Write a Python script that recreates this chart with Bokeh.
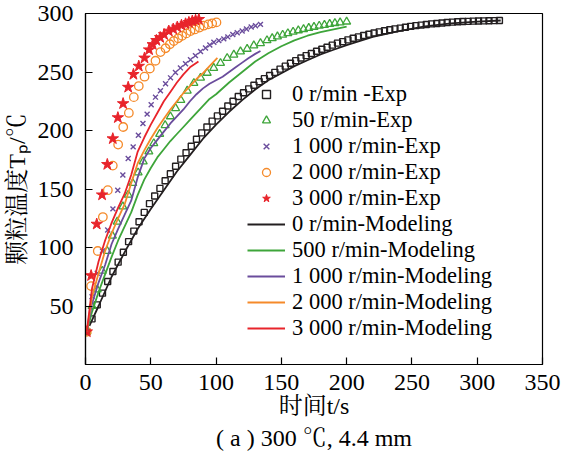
from bokeh.plotting import figure
from bokeh.models import Range1d, FixedTicker, Legend, LegendItem, Title
from bokeh.embed import file_html
from bokeh.resources import INLINE

# ---------------- data ----------------
x_ticks = [0, 50, 100, 150, 200, 250, 300, 350]
y_ticks = [50, 100, 150, 200, 250, 300]

# Experimental points
t_exp_0 = [1, 5, 9, 13, 17, 21, 25, 29, 33, 37, 41, 45, 49, 53, 57, 61, 65, 69, 73, 77,
           81, 85, 89, 93, 97, 101, 105, 109, 113, 117, 121, 125, 129, 133, 137, 141, 145, 149, 153, 157,
           161, 165, 169, 173, 177, 181, 185, 189, 193, 197, 201, 205, 209, 213, 217, 221, 225, 229, 233, 237,
           241, 245, 249, 253, 257, 261, 265, 269, 273, 277, 281, 285, 289, 293, 297, 301, 305, 309, 313, 317]
T_exp_0 = [28, 39, 51, 61, 71, 79.5, 87.5, 96, 105, 114, 122, 130, 137.5, 144, 150.5, 157, 163, 169.5, 175.5, 181,
           186.5, 192.5, 198, 203, 208, 212.5, 216.5, 221, 225, 229, 232.3, 235.6, 238.7, 241.7, 244.3, 247, 249.7, 252.5, 255, 257.5,
           259.7, 262, 264, 265.8, 267.7, 269.4, 271.2, 273, 274.7, 276, 277.5, 278.8, 280, 281.2, 282.3, 283.3, 284.3, 285.2, 286.1, 286.9,
           287.5, 288.3, 289, 289.6, 290.1, 290.6, 291.1, 291.5, 291.9, 292.3, 292.6, 292.9, 293.1, 293.3, 293.5, 293.6, 293.7, 293.8, 293.9, 294]

t_exp_50 = [1, 5, 9, 12.8, 16.6, 20.6, 24.3, 28.6, 32.7, 36.2, 40.3, 44.2, 48.5, 52.3, 56.8, 61, 65, 69, 73, 77.9,
            83, 88.1, 93.2, 98.2, 103.4, 108.5, 113.6, 118.7, 123.8, 128.9, 134, 139, 143, 147, 151, 155, 159, 163, 167, 171,
            175, 179, 183, 187, 191, 195, 200]
T_exp_50 = [28, 50, 64, 80, 97, 110, 122, 135, 145, 155, 164, 173.5, 182, 189, 197, 204.5, 212, 219, 226, 234,
            240.5, 245, 249.2, 253.4, 257.6, 261.9, 264.7, 267.5, 269.7, 272.6, 274.6, 277, 278.8, 280.3, 281.7, 283, 284.3, 285.5, 286.6, 287.6,
            288.5, 289.4, 290.2, 291, 291.7, 292.3, 293]

t_exp_1000 = [1, 5, 9, 13, 17, 21, 24.7, 28.6, 32.7, 36.5, 40.5, 44, 47.2, 50.3, 53.6, 57.4, 61.3, 65.1, 68.9, 72.7,
              76.6, 80.4, 84.2, 88.1, 91.9, 95.2, 98.3, 102.1, 105.9, 109, 112.8, 116.2, 120, 123.3, 126.9, 130.2, 134]
T_exp_1000 = [28, 58, 78, 97, 115, 133, 149, 162, 176, 186, 196, 206, 214, 222, 228.5, 234, 240, 245, 249.5, 253.5,
              257, 260.5, 264, 267.5, 270.5, 273, 275.4, 276.8, 278.3, 280, 282, 283.6, 285, 286.7, 288.4, 289.6, 290.7]

t_exp_2000 = [1, 4.3, 9.4, 13.3, 17.1, 20.9, 25, 28.9, 33.2, 37, 40.8, 45.2, 49.3, 53.6, 57.4, 61.3, 64.6, 67.6, 71, 74,
              77.3, 80.4, 83.7, 87.3, 90.6, 94, 97, 100.3]
T_exp_2000 = [28, 67, 97, 126, 149, 170, 188, 203, 215, 228.5, 238, 246, 253, 259.6, 267, 270.3, 273.7, 276.5, 278.8, 281,
              283, 285, 286.4, 288, 289.6, 290.7, 291.5, 292.4]

t_exp_3000 = [1, 4.3, 8.6, 12.7, 16.7, 20.9, 24.8, 28.8, 32.7, 36.7, 40.8, 45.2, 48.7, 51.5, 54.3, 57.2, 60.2, 63.8, 67.2, 70.3,
              73.5, 76.6, 79.2, 81.8, 84.3, 86.8]
T_exp_3000 = [28, 76, 120, 145, 171, 193, 211, 223, 237, 248, 255, 262, 269, 273.5, 277, 279.5, 282, 285, 286.7, 288.4,
              290, 291.2, 292.4, 293.5, 294.3, 295]

# Modeling curves
t_mod_0 = [3, 10, 20, 30, 40, 50, 60, 70, 80, 90, 100, 110, 120, 130, 140, 150, 160, 170, 180, 190, 200, 220, 240, 260, 280, 300, 318]
T_mod_0 = [33, 50, 75, 96, 116, 133, 149, 165, 179, 193, 205, 216, 226, 235, 243, 249, 255, 260, 265, 269, 273, 280, 285, 289, 291.5, 293, 294]

t_mod_500 = [1, 5, 10, 15, 20, 25, 30, 35, 40, 45, 50, 55, 60, 65, 70, 75, 80, 85, 90, 95, 100, 110, 120, 130, 140, 150, 160, 170, 180, 190, 200]
T_mod_500 = [28, 45, 62, 77, 92, 106, 118, 130, 145, 158, 168, 177, 184, 191, 197, 203, 209, 215, 221, 227, 231, 241, 250, 259, 266, 272, 277, 281, 284, 286.5, 288.7]

t_mod_1000 = [1, 5, 10, 15, 20, 25, 30, 35, 40, 45, 50, 55, 60, 65, 70, 75, 80, 85, 90, 95, 100, 105, 110, 115, 120, 125, 130, 134]
T_mod_1000 = [28, 52, 70, 85, 103, 116, 128, 140, 160, 176, 185, 192, 199, 206, 212, 218, 225, 231, 236, 240, 243, 246, 250, 254, 258, 262, 265.5, 268]

t_mod_2000 = [1, 5, 10, 15, 20, 25, 30, 35, 40, 45, 50, 55, 60, 65, 70, 75, 80, 85, 90, 95, 101]
T_mod_2000 = [28, 58, 78, 97, 112, 125, 137, 155, 172, 183, 193, 202, 210, 218, 225, 232, 238, 244, 249, 255, 262]

t_mod_3000 = [1, 5, 10, 15, 20, 25, 30, 35, 40, 45, 50, 55, 60, 65, 70, 75, 80, 86.5]
T_mod_3000 = [28, 65, 88, 106, 121, 134, 146, 162, 182, 194, 205, 215, 225, 233, 241, 248, 254, 259]

exp_labels = ["0 r/min -Exp", "50 r/min-Exp", "1 000 r/min-Exp", "2 000 r/min-Exp", "3 000 r/min-Exp"]
mod_labels = ["0 r/min-Modeling", "500 r/min-Modeling", "1 000 r/min-Modeling",
              "2 000 r/min-Modeling", "3 000 r/min-Modeling"]

# ---------------- styles ----------------
C_BLACK = "#231f20"
C_GREEN = "#3ea53a"
C_PURPLE = "#6a4c9c"
C_ORANGE = "#f58a2a"
C_RED = "#e8242b"
SERIF = "Liberation Serif, Noto Serif CJK SC, Noto Sans CJK SC"

p = figure(width=561, height=461, output_backend="svg", toolbar_location=None,
           x_range=Range1d(0, 350), y_range=Range1d(0, 300),
           min_border_left=85, min_border_right=19, min_border_top=13, min_border_bottom=97)

p.xgrid.visible = False
p.ygrid.visible = False
p.outline_line_color = "black"
p.outline_line_width = 1.2
p.background_fill_color = "white"
p.border_fill_color = "white"

for ax in (p.xaxis[0], p.yaxis[0]):
    ax.axis_line_color = "black"
    ax.axis_line_width = 1.2
    ax.major_tick_in = 7
    ax.major_tick_out = 0
    ax.major_tick_line_width = 1.2
    ax.minor_tick_line_color = None
    ax.major_label_text_font = "Liberation Serif"
    ax.major_label_text_font_size = "24px"
    ax.major_label_text_color = "black"
    ax.axis_label_text_font = SERIF
    ax.axis_label_text_font_size = "24px"
    ax.axis_label_text_font_style = "normal"
    ax.axis_label_text_color = "black"

p.xaxis[0].ticker = FixedTicker(ticks=x_ticks)
p.yaxis[0].ticker = FixedTicker(ticks=y_ticks)
p.xaxis[0].major_label_standoff = 10
p.yaxis[0].major_label_standoff = 12
p.xaxis[0].axis_label = "时间t/s"
p.yaxis[0].axis_label = "颗粒温度Tₚ/℃"
p.xaxis[0].axis_label_standoff = 0
p.yaxis[0].axis_label_standoff = 5

# ---------------- glyphs ----------------
r_e0 = p.scatter(t_exp_0, T_exp_0, marker="square", size=6, line_color=C_BLACK, line_width=1.4, fill_color=None)
r_e50 = p.scatter(t_exp_50, T_exp_50, marker="triangle", size=8, line_color=C_GREEN, line_width=1.3, fill_color=None)
r_e1000 = p.scatter(t_exp_1000, T_exp_1000, marker="x", size=7, line_color=C_PURPLE, line_width=1.4)
r_e2000 = p.scatter(t_exp_2000, T_exp_2000, marker="circle", size=8.5, line_color=C_ORANGE, line_width=1.3, fill_color=None)
r_e3000 = p.scatter(t_exp_3000, T_exp_3000, marker="star", size=12, line_color=C_RED, line_width=1, fill_color=C_RED)

r_m0 = p.line(t_mod_0, T_mod_0, line_color=C_BLACK, line_width=1.8)
r_m500 = p.line(t_mod_500, T_mod_500, line_color=C_GREEN, line_width=1.8)
r_m1000 = p.line(t_mod_1000, T_mod_1000, line_color=C_PURPLE, line_width=1.8)
r_m2000 = p.line(t_mod_2000, T_mod_2000, line_color=C_ORANGE, line_width=1.8)
r_m3000 = p.line(t_mod_3000, T_mod_3000, line_color=C_RED, line_width=1.8)

exp_r = [r_e0, r_e50, r_e1000, r_e2000, r_e3000]
mod_r = [r_m0, r_m500, r_m1000, r_m2000, r_m3000]
items = [LegendItem(label=l, renderers=[r]) for l, r in zip(exp_labels, exp_r)]
items += [LegendItem(label=l, renderers=[r]) for l, r in zip(mod_labels, mod_r)]

legend = Legend(items=items, location=(162, 23), orientation="vertical",
                border_line_alpha=0, background_fill_alpha=0,
                padding=0, margin=0, spacing=0,
                label_height=25, glyph_height=20, glyph_width=38, label_standoff=7,
                label_text_font="Liberation Serif", label_text_font_size="22.5px",
                label_text_line_height=1.0,
                label_text_color="black")
p.add_layout(legend, "center")

caption = Title(text="( a ) 300 ℃, 4.4 mm", align="center", standoff=3,
                text_font=SERIF, text_font_size="24px", text_font_style="normal",
                text_color="black")
p.add_layout(caption, "below")

open("out.html", "w").write(file_html(p, INLINE))
